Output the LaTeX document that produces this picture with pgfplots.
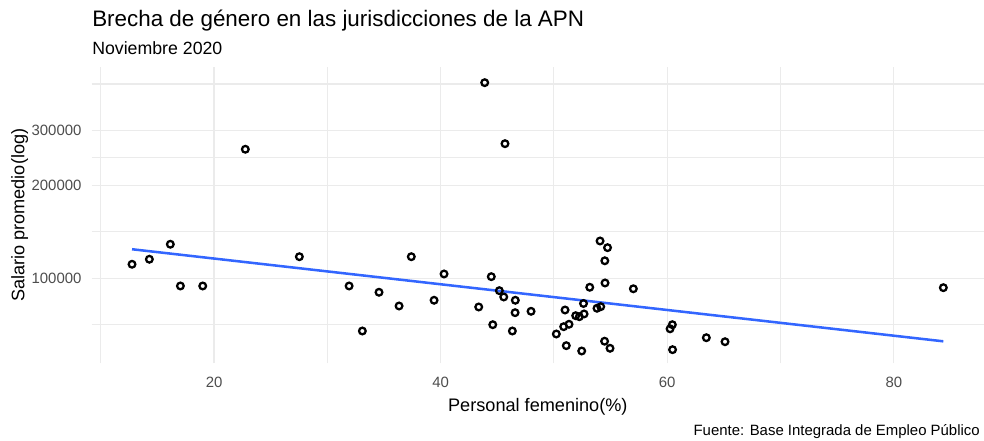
\documentclass[border=0pt]{standalone}
\usepackage{fontspec}
\setmainfont{Liberation Sans}
\usepackage{pgfplots}
\pgfplotsset{compat=1.18}

\definecolor{gridgrey}{HTML}{EBEBEB}
\definecolor{ticktxt}{HTML}{4D4D4D}
\definecolor{lmblue}{HTML}{3366FF}

% jurisdicciones: % personal femenino vs salario promedio
\pgfplotstableread{
x y
12.76 110980
14.29 115200
16.14 128800
17.03 94430
19.00 94430
22.76 261100
27.53 117400
31.92 94430
33.09 67560
34.56 90110
36.33 81370
37.41 117400
39.42 84900
40.30 103250
43.36 80770
43.89 428500
44.47 101200
44.60 70800
45.18 91190
45.57 87020
45.68 272200
46.33 67560
46.59 84900
46.57 77420
47.98 78220
50.21 66070
50.98 78980
50.86 69760
51.33 71020
51.09 60570
51.92 75700
52.24 75140
52.66 76680
52.61 82900
52.45 58220
53.16 93520
53.80 80000
54.13 80950
54.07 131970
54.73 125570
54.49 113900
54.51 96560
54.47 62610
54.95 59400
57.01 92490
60.25 68670
60.45 70800
60.47 58790
63.45 64260
65.10 62380
84.37 93240
}\jurisdicciones

\begin{document}
\begin{tikzpicture}
\useasboundingbox (-68.775pt,-58.275pt) rectangle (669.225pt,272.475pt);
\begin{axis}[
    at={(0,0)}, anchor=south west,
    scale only axis,
    width=669.225pt, height=222pt,
    xmin=9.2, xmax=87.96,
    ymode=log, ymin=53130, ymax=480500,
    xtick={20,40,60,80},
    minor xtick={10,30,50,70},
    ytick={100000,200000,300000},
    yticklabels={100000,200000,300000},
    minor ytick={70711,141421,244949,424264},
    grid=both,
    major grid style={gridgrey, line width=0.9pt},
    minor grid style={gridgrey, line width=0.8pt},
    axis line style={draw=none},
    tick style={draw=none},
    /pgf/number format/assume math mode=true,
    ticklabel style={font=\fontsize{11.2}{13}\selectfont, text=ticktxt},
    xticklabel style={anchor=base, yshift=-18.5pt},
    yticklabel style={anchor=east, inner sep=0pt, xshift=-7.5pt},
    xlabel={Personal femenino(\%)},
    ylabel={Salario promedio(log)},
    label style={font=\fontsize{13.6}{16}\selectfont},
    xlabel style={at={([yshift=-35.8pt]axis description cs:0.5,0)}, anchor=base},
    ylabel style={at={([xshift=-50.4pt]axis description cs:0,0.5)}, anchor=base, rotate=0},
]
    % ajuste lineal (lm) sobre log(salario)
    \addplot[lmblue, line width=1.9pt, no marks] coordinates {
        (12.76,124100) (84.37,62560)
    };
    \addplot[only marks, mark=o, mark size=2.5pt, mark options={line width=1.7pt, draw=black}]
        table[x=x, y=y] {\jurisdicciones};
\end{axis}
\begin{scope}[shift={(-68.775pt,272.475pt)}, x=0.75pt, y=-0.75pt]
    \node[anchor=base west, inner sep=0pt, font=\fontsize{16.8}{20}\selectfont] at (92,27) {Brecha de género en las jurisdicciones de la APN};
    \node[anchor=base west, inner sep=0pt, font=\fontsize{13.3}{16}\selectfont] at (92,55) {Noviembre 2020};
    \node[anchor=base east, inner sep=0pt, font=\fontsize{11.2}{13}\selectfont] at (980,436) {Fuente: Base Integrada de Empleo Público};
\end{scope}
\end{tikzpicture}
\end{document}
